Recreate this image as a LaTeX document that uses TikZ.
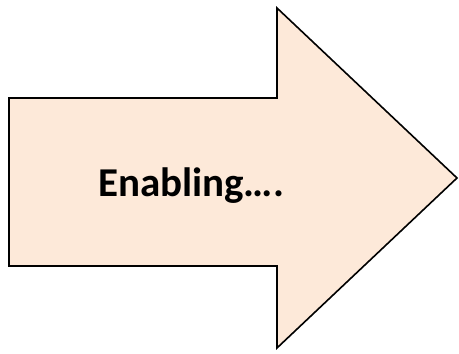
\documentclass[tikz,border=0pt]{standalone}
\usepackage{fontspec}
\setmainfont{Carlito}
\definecolor{peach}{HTML}{FDE9D9}
\begin{document}
\begin{tikzpicture}[x=1pt,y=1pt,
  arrowshape/.style={draw=black,fill=peach,line width=1.6pt,line join=miter},
  lbl/.style={font=\fontsize{41}{46}\selectfont\bfseries,inner sep=0pt}]
\useasboundingbox (0,0) rectangle (459,354);
\draw[arrowshape] (9,256) -- (277,256) -- (277,346) -- (457,176) -- (277,6) -- (277,88) -- (9,88) -- cycle;
\node[lbl,anchor=base] (t) at (191,157) {Enabling….};
\end{tikzpicture}
\end{document}
